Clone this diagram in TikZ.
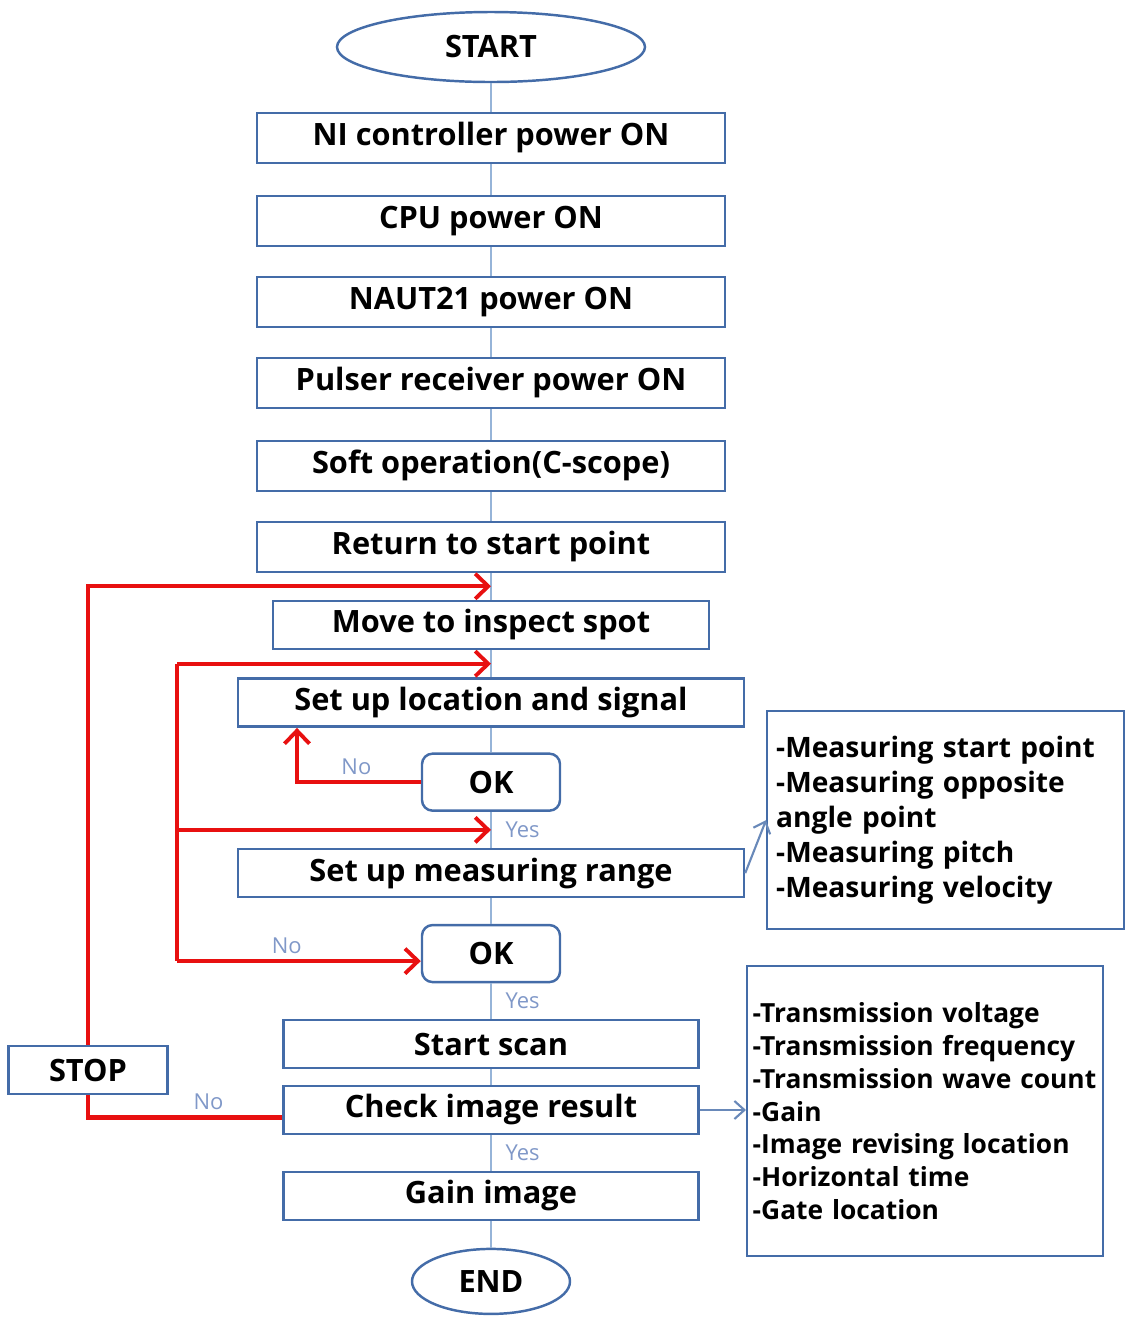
\documentclass[tikz,border=0pt]{standalone}
\usepackage{fontspec}
\setmainfont{Open Sans}
\usepackage{tikz}
\usetikzlibrary{positioning,calc}
\usetikzlibrary{shapes.geometric,arrows.meta}

\definecolor{boxblue}{RGB}{68,108,168}
\definecolor{spineblue}{RGB}{150,180,216}
\definecolor{lblblue}{RGB}{128,152,200}
\definecolor{loopred}{RGB}{232,16,16}

\tikzset{
  stepbox/.style={draw=boxblue, line width=1.4pt, fill=white, rectangle, inner sep=0pt,
    minimum width=9.36cm, minimum height=1cm, font=\bfseries\fontsize{17.5}{20}\selectfont},
  endbox/.style={draw=boxblue, line width=1.4pt, fill=white, ellipse, inner sep=0pt,
    font=\bfseries\fontsize{17.5}{20}\selectfont},
  okbox/.style={draw=boxblue, line width=1.4pt, fill=white, rounded corners=6pt, inner sep=0pt,
    minimum width=2.76cm, minimum height=1.14cm, font=\bfseries\fontsize{17.5}{20}\selectfont},
  notebox/.style={draw=boxblue, line width=1.4pt, anchor=north west, align=left},
  spine/.style={draw=spineblue, line width=0.6pt},
  redline/.style={draw=loopred, line width=2.3pt, -{Straight Barb[length=2.6mm,width=5mm,line width=2.2pt]}},
  bluearrow/.style={draw=boxblue!80, line width=1.2pt, -{Straight Barb[length=2mm,width=3.6mm]}},
  lbl/.style={text=lblblue, font=\fontsize{12.5}{14}\selectfont, inner sep=3pt}
}

\begin{document}
\begin{tikzpicture}
	\useasboundingbox (0,0) rectangle (22.56,-26.34);

	\node[endbox, minimum width=6.16cm, minimum height=1.4cm] (start) at (9.82,-0.94) {START};
	\node[stepbox] (ni) [below = 0.57cm of start] {NI controller power ON};
	\node[stepbox] (cpu) [below = 0.61cm of ni] {CPU power ON};
	\node[stepbox] (naut) [below = 0.57cm of cpu] {NAUT21 power ON};
	\node[stepbox] (pulser) [below = 0.57cm of naut] {Pulser receiver power ON};
	\node[stepbox] (soft) [below = 0.61cm of pulser] {Soft operation(C-scope)};
	\node[stepbox] (ret) [below = 0.57cm of soft] {Return to start point};
	\node[stepbox, minimum width=8.72cm, minimum height=0.96cm] (move) [below = 0.53cm of ret] {Move to inspect spot};
	\node[stepbox, minimum width=10.12cm, minimum height=0.96cm] (setloc) [below = 0.55cm of move] {Set up location and signal};
	\node[okbox] (ok1) [below = 0.49cm of setloc] {OK};
	\node[stepbox, minimum width=10.12cm, minimum height=0.96cm] (range) [below = 0.72cm of ok1] {Set up measuring range};
	\node[okbox] (ok2) [below = 0.51cm of range] {OK};
	\node[stepbox, minimum width=8.3cm, minimum height=0.96cm] (scan) [below = 0.71cm of ok2] {Start scan};
	\node[stepbox, minimum width=8.3cm, minimum height=0.96cm] (check) [below = 0.31cm of scan] {Check image result};
	\node[stepbox, minimum width=8.3cm, minimum height=0.96cm] (gain) [below = 0.71cm of check] {Gain image};
	\node[endbox, minimum width=3.16cm, minimum height=1.3cm] (end) [below = 0.53cm of gain] {END};

	\node[stepbox, minimum width=3.18cm, minimum height=0.96cm] (stop) at (1.76,-21.4) {STOP};

	% notes on the right
	\node[notebox, inner sep=0.18cm, text width=6.78cm, minimum height=4.36cm, font=\bfseries\fontsize{16}{19.8}\selectfont] (note1) at (15.32,-14.2)
		{-Measuring start point\\-Measuring opposite\\angle point\\-Measuring pitch\\-Measuring velocity};
	\node[notebox, inner sep=0.11cm, text width=6.9cm, minimum height=5.8cm, font=\bfseries\fontsize{15}{18.7}\selectfont] (note2) at (14.92,-19.3)
		{-Transmission voltage\\-Transmission frequency\\-Transmission wave count\\-Gain\\-Image revising location\\-Horizontal time\\-Gate location};

	% main line
	\foreach \a/\b in {start/ni, ni/cpu, cpu/naut, naut/pulser, pulser/soft, soft/ret, ret/move, move/setloc, setloc/ok1, ok2/scan, scan/check, gain/end}
		\draw[spine] (\a) -- (\b);
	\draw[spine] (ok1) -- node[lbl, right, xshift=5pt]{Yes} (range);
	\draw[spine] (range) -- (ok2);
	\draw[spine] (ok2) -- node[lbl, right, xshift=5pt]{Yes} (scan);
	\draw[spine] (check) -- node[lbl, right, xshift=5pt]{Yes} (gain);

	% loops back
	\coordinate (j1) at ($(ret.south)!0.5!(move.north)$);
	\coordinate (j2) at ($(move.south)!0.5!(setloc.north)$);
	\coordinate (j3) at ($(ok1.south)!0.5!(range.north)$);
	\coordinate (lx) at (3.54,0);
	\coordinate (nx) at (5.94,0);
	\coordinate (ok2in) at ([yshift=-0.15cm]ok2.west);
	\coordinate (checkout) at ([yshift=-0.15cm]check.west);

	\draw[redline] (stop.north) |- (j1);
	\draw[redline, -] (lx |- j2) -- (lx |- ok2in);
	\draw[redline] (lx |- j2) -- (j2);
	\draw[redline] (lx |- j3) -- (j3);
	\draw[redline] (lx |- ok2in) -- node[lbl, pos=0.45, above]{No} (ok2in);
	\draw[redline] (ok1.west) -| node[lbl, pos=0.26, above]{No} (nx |- setloc.south);
	\draw[redline, -] (checkout) -| node[lbl, pos=0.19, above]{No} (stop.south);

	\draw[bluearrow] (range.east) -- (note1.west);
	\draw[bluearrow] (check.east) -- (check.east -| note2.west);
\end{tikzpicture}
\end{document}
